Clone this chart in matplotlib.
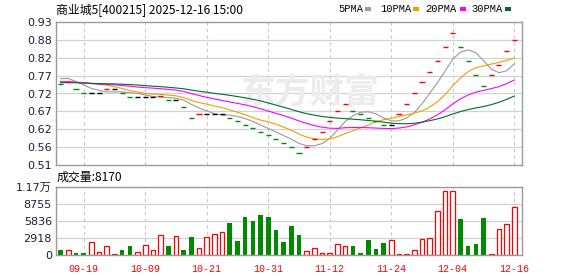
import numpy as np
import pandas as pd
import matplotlib
matplotlib.use("Agg")
import matplotlib.pyplot as plt
from matplotlib.patches import Rectangle

# daily closes, 2025-09-16 .. 2025-12-16 (60 trading days)
closes = [0.748, 0.754, 0.732, 0.720, 0.720, 0.720, 0.732, 0.732, 0.720, 0.709,
          0.709, 0.709, 0.709, 0.713, 0.700, 0.700, 0.680, 0.647, 0.659, 0.659,
          0.659, 0.659, 0.647, 0.639, 0.627, 0.618, 0.606, 0.598, 0.586, 0.575,
          0.564, 0.544, 0.564, 0.586, 0.606, 0.639, 0.669, 0.688, 0.669, 0.659,
          0.647, 0.639, 0.627, 0.627, 0.659, 0.688, 0.720, 0.754, 0.782, 0.815,
          0.857, 0.897, 0.857, 0.815, 0.773, 0.741, 0.773, 0.803, 0.844, 0.876]

# closes before the window, needed for the moving averages at the left edge
history = [0.74, 0.75, 0.74, 0.75, 0.74, 0.75, 0.74, 0.75, 0.74, 0.75,
           0.76, 0.76, 0.75, 0.76, 0.76, 0.75, 0.76, 0.76, 0.75, 0.76,
           0.74, 0.74, 0.745, 0.74, 0.745, 0.75, 0.78, 0.77, 0.77]

volumes = [910, 900, 400, 280, 2230, 515, 1600, 220, 910, 1600,
           515, 1770, 860, 3430, 1600, 3310, 910, 3140, 1250, 3140,
           3660, 4000, 5490, 2450, 6460, 5890, 6920, 6460, 4340, 2280,
           5030, 3490, 740, 1250, 280, 400, 1940, 1600, 1600, 280,
           2630, 1080, 2110, 2575, 220, 220, 860, 2750, 2920, 7550,
           11040, 11040, 6230, 1600, 1940, 6400, 220, 4520, 5320, 8170]

date_pos = [3, 11, 19, 27, 35, 43, 51, 59]
date_labels = ["09-19", "10-09", "10-21", "10-31", "11-12", "11-24", "12-04", "12-16"]

price_ticks = [0.51, 0.5625, 0.615, 0.6675, 0.72, 0.7725, 0.825, 0.8775, 0.93]
price_labels = ["0.51", "0.56", "0.62", "0.67", "0.72", "0.77", "0.82", "0.88", "0.93"]
vol_ticks = [0, 2918, 5836, 8755, 11673]
vol_labels = ["0", "2918", "5836", "8755", "1.17万"]

ma_periods = [5, 10, 20, 30]
ma_names = ["5PMA", "10PMA", "20PMA", "30PMA"]
ma_colors = ["#9a9a9a", "#f0a000", "#ff00ff", "#006a35"]

RED = "#ff0000"
GREEN = "#008a00"

full = pd.Series(history + closes)
mas = [full.rolling(p).mean().to_numpy()[-len(closes):] for p in ma_periods]
prev = np.array(([history[-1]] + closes[:-1]))
c = np.array(closes)
x = np.arange(len(closes))
dash_colors = np.where(c > prev, RED, np.where(c < prev, GREEN, "black"))

W, H = 578, 276
fig = plt.figure(figsize=(W / 100, H / 100), dpi=100)
ax1 = fig.add_axes([56 / W, (H - 165) / H, 466 / W, 143 / H])
ax2 = fig.add_axes([56 / W, (H - 255) / H, 466 / W, 68 / H])

lab_col = "#1c1c3c"
for ax in (ax1, ax2):
    ax.set_xlim(-0.6, 60.0)
    for s in ax.spines.values():
        s.set_color("#9a9a9a")
        s.set_linewidth(1.0)
    ax.tick_params(length=0, labelsize=8, colors=lab_col, pad=3)
    for p in date_pos:
        ax.axvline(p, color="#c8c8c8", lw=0.8, ls=(0, (3, 3)), zorder=0)

# price panel
ax1.set_ylim(0.51, 0.93)
ax1.set_yticks(price_ticks)
ax1.set_yticklabels(price_labels, family="DejaVu Sans")
ax1.set_xticks([])
for t in price_ticks[1:-1]:
    ax1.axhline(t, color="#d2d2d2", lw=0.9, zorder=0)

ax1.text(0.545, 0.51, "东方财富", transform=ax1.transAxes, ha="center", va="center",
         fontsize=25, fontweight="bold", color="#ececec", family="Noto Sans CJK SC", zorder=0)

for ma, col in zip(mas, ma_colors):
    ax1.plot(x, ma, color=col, lw=0.8, zorder=2)
ax1.hlines(c, x - 0.33, x + 0.33, colors=dash_colors, lw=1.0, zorder=3)

# volume panel
ax2.set_ylim(0, 11673)
ax2.set_yticks(vol_ticks)
ax2.set_yticklabels(vol_labels, family=["DejaVu Sans", "Noto Sans CJK SC"])
for t in vol_ticks[1:-1]:
    ax2.axhline(t, color="#d2d2d2", lw=0.9, zorder=0)
up = c >= prev
v = np.array(volumes)
ax2.bar(x[up], v[up], width=0.6, facecolor="white", edgecolor=RED, lw=0.9, zorder=2)
ax2.bar(x[~up], v[~up], width=0.6, color=GREEN, lw=0, zorder=2)
ax2.set_xticks(date_pos)
ax2.set_xticklabels(date_labels, family="Liberation Mono", fontsize=7.2, color=RED)
ax2.tick_params(axis="x", pad=6.5, colors=RED)

# texts
fig.text(56 / W, 1 - 10 / H, "商业城5[400215] 2025-12-16 15:00", ha="left", va="center",
         fontsize=8.6, family="Noto Sans CJK SC", color="black")
fig.text(57 / W, 1 - 177 / H, "成交量:8170", ha="left", va="center",
         fontsize=8.6, family="Noto Sans CJK SC", color="black")

leg_x = [338, 380, 425, 471]
leg_sq = [365, 413, 460, 505]
for name, col, lx, sx in zip(ma_names, ma_colors, leg_x, leg_sq):
    fig.text(lx / W, 1 - 9 / H, name, ha="left", va="center", fontsize=7.5,
             family="Liberation Mono", color="black")
    fig.add_artist(Rectangle((sx / W, 1 - 10.5 / H), 6 / W, 3 / H, transform=fig.transFigure,
                             facecolor=col, edgecolor="none"))

fig.savefig("out.png", dpi=100)
